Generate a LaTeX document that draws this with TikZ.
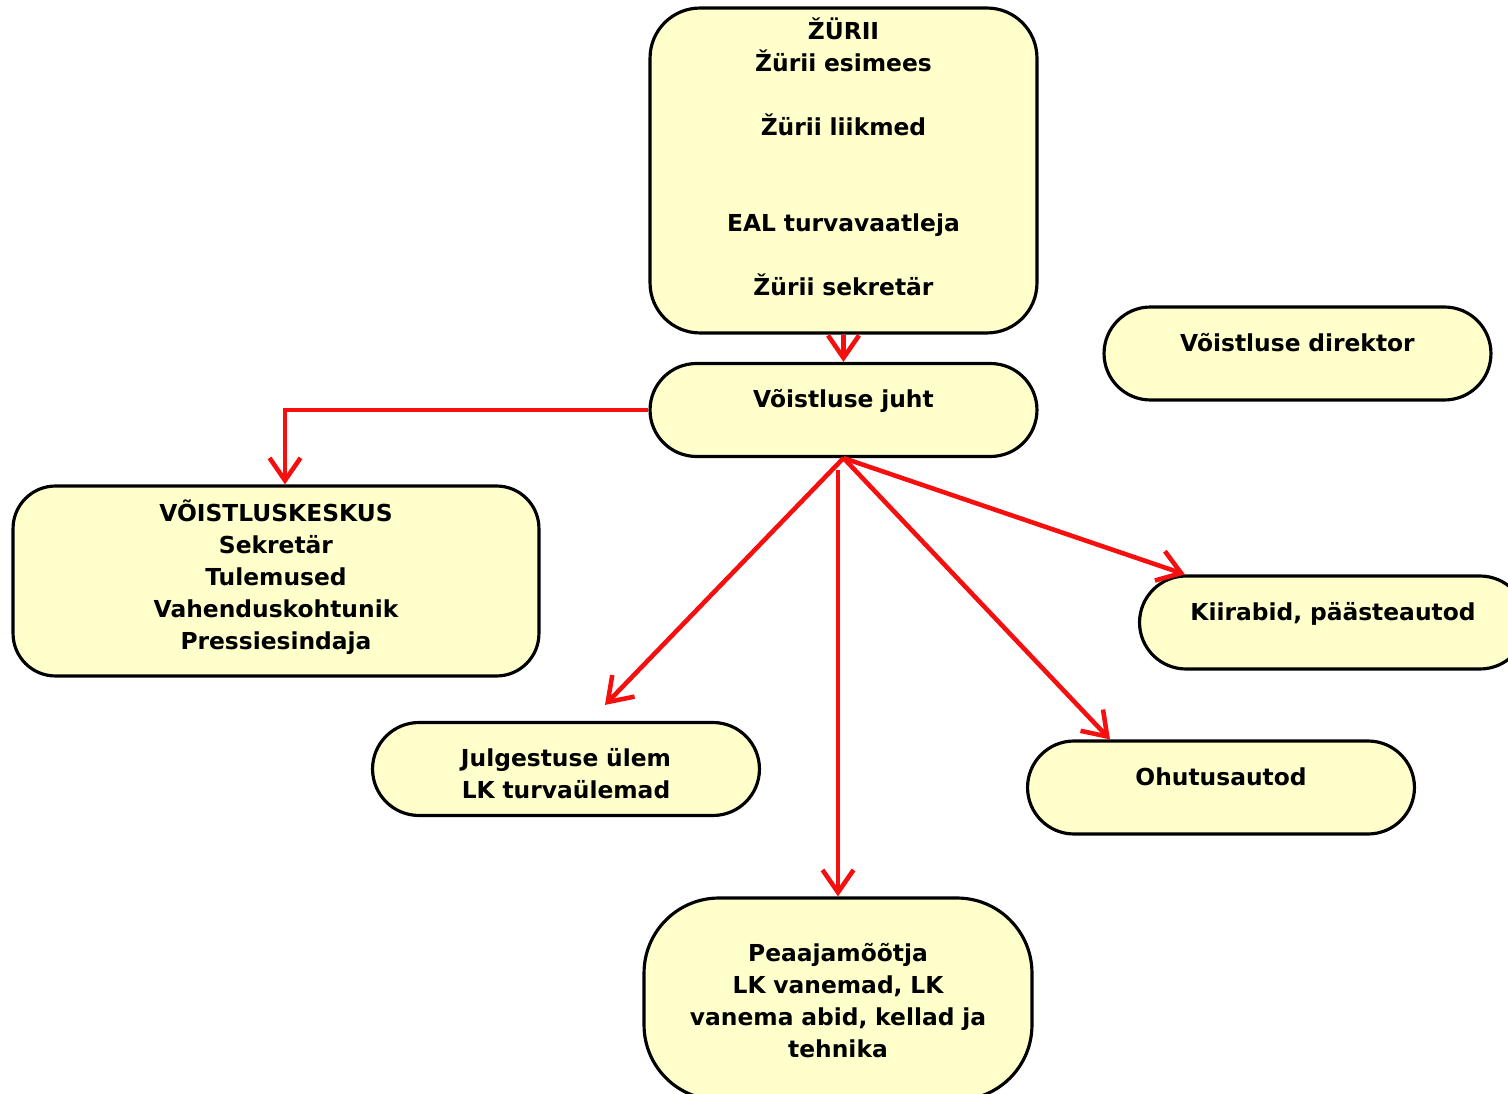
\documentclass[tikz,border=0pt]{standalone}
\usepackage{fontspec}
\setmainfont{DejaVu Sans}
\usepackage{tikz}
\usetikzlibrary{arrows.meta}

\definecolor{boxfill}{RGB}{255,255,204}
\definecolor{linkred}{RGB}{245,15,15}

\tikzset{
	box/.style={draw=black, line width=1.8pt, fill=boxfill, align=center,
		inner sep=0pt, text width=7cm, text height=10pt,
		font=\fontsize{13.3}{18.2}\selectfont\bfseries},
	pill/.style={box, minimum width=7.74cm, minimum height=1.86cm,
		rounded corners=0.93cm, text depth=12.4pt},
	link/.style={->, linkred, line width=2.6pt}
}

\begin{document}
\begin{tikzpicture}[> = {Straight Barb[length=0.45cm,width=0.62cm]}, % arrow head style
	x=0.02cm, y=-0.02cm % one unit is one pixel of the sketch
	]
	\useasboundingbox (0,0) rectangle (1508,1094);

	\node[box, minimum width=7.74cm, minimum height=6.5cm, rounded corners=1cm,
		text depth=159pt] (jury) at (843.5,170.5)
		{ŽÜRII\\ Žürii esimees\\[18.2pt] Žürii liikmed\\[36.4pt]
		EAL turvavaatleja\\[18.2pt] Žürii sekretär};
	\node[pill] (juht) at (843.5,410) {Võistluse juht};
	\node[pill] (direktor) at (1297.5,353.5) {Võistluse direktor};
	\node[box, minimum width=10.52cm, minimum height=3.8cm, rounded corners=0.85cm,
		text depth=78pt] (keskus) at (276,581)
		{VÕISTLUSKESKUS\\ Sekretär\\ Tulemused\\ Vahenduskohtunik\\ Pressiesindaja};
	\node[pill] (julg) at (566,769) {Julgestuse ülem\\ LK turvaülemad};
	\node[pill] (kiirabid) at (1333,622.5) {Kiirabid, päästeautod};
	\node[pill] (ohutus) at (1221,787.5) {Ohutusautod};
	\node[box, minimum width=7.76cm, minimum height=4.04cm, rounded corners=1.5cm,
		text depth=53pt] (peaaja) at (838,999)
		{Peaajamõõtja\\ LK vanemad, LK\\ vanema abid, kellad ja\\ tehnika};

	\draw[link] (jury) -- (juht);
	\draw[link] (juht.west) -| ([shift={(9,0)}]keskus.north);
	\draw[link] (juht.south) -- ([shift={(39,-16)}]julg.north);
	\draw[link] ([shift={(0,12)}]juht.south -| peaaja.north) -- (peaaja.north);
	\draw[link] (juht.south) -- ([shift={(-111,0)}]ohutus.north);
	\draw[link] (juht.south) -- ([shift={(-148,0)}]kiirabid.north);

\end{tikzpicture}
\end{document}
